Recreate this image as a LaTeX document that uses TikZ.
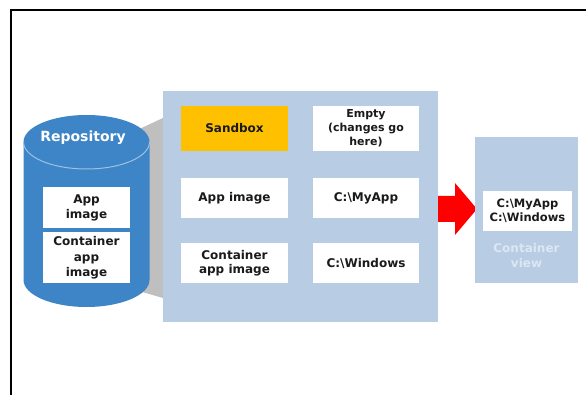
\documentclass[tikz,border=0pt]{standalone}
\usepackage{fontspec}
\setmainfont{DejaVu Sans}
\usetikzlibrary{positioning}
\definecolor{cylblue}{HTML}{3D85C6}
\definecolor{cyledge}{HTML}{9CC2E5}
\definecolor{panel}{HTML}{B8CCE4}
\definecolor{sandorange}{HTML}{FFC000}
\definecolor{linkgray}{HTML}{BFBFBF}
\definecolor{ink}{HTML}{1A1A1A}
\definecolor{pale}{HTML}{DDE7F3}
\tikzset{
  whitebox/.style={fill=white, inner sep=0pt, align=center, text=ink,
    font=\bfseries\fontsize{12}{14.5}\selectfont},
  panelbox/.style={fill=panel, inner sep=0pt},
}
\begin{document}
\begin{tikzpicture}[x=1pt,y=-1pt]
\useasboundingbox (0,0) rectangle (586,395);
% frame
\draw[line width=2.5pt, black] (11,395) -- (11,10) -- (586,10);
% gray link
\fill[linkgray] (135,131) -- (163,118) -- (163,298) -- (135,290) -- cycle;
% cylinder
\fill[cylblue] (23.5,142) -- (23.5,280)
  arc[start angle=180, end angle=0, x radius=63, y radius=27]
  -- (149.5,142)
  arc[start angle=0, end angle=-180, x radius=63, y radius=27] -- cycle;
\draw[cyledge, line width=1pt] (149.5,142)
  arc[start angle=0, end angle=180, x radius=63, y radius=27];
\node[text=white, font=\bfseries\fontsize{14}{16}\selectfont] (repo) at (83,138) {Repository};
\node[whitebox, minimum width=87pt, minimum height=41pt] (rapp) at (86.5,208) {App\\image};
\node[whitebox, minimum width=87pt, minimum height=51pt, font=\bfseries\fontsize{12}{15.5}\selectfont] (rcont) at (86.5,258) {Container\\app\\image};
% main panel
\node[panelbox, minimum width=275pt, minimum height=231pt] (main) at (300.5,206.5) {};
\node[whitebox, fill=sandorange, minimum width=107pt, minimum height=45pt] (sandbox) at (234.5,128.5) {Sandbox};
\node[whitebox, minimum width=106pt, minimum height=45pt, font=\bfseries\fontsize{11}{14}\selectfont] (empty) at (366,128.5) {Empty\\(changes go\\here)};
\node[whitebox, minimum width=107pt, minimum height=40pt] (appimg) at (234.5,198) {App image};
\node[whitebox, minimum width=106pt, minimum height=40pt] (myapp) at (366,198) {C:\textbackslash MyApp};
\node[whitebox, minimum width=107pt, minimum height=40pt] (contimg) at (234.5,263) {Container\\app image};
\node[whitebox, minimum width=106pt, minimum height=40pt] (windows) at (366,263) {C:\textbackslash Windows};
% arrow
\fill[red] (main.east |- 0,196) -- (455,196) -- (455,183) -- (477,209) -- (455,235) -- (455,222) -- (main.east |- 0,222) -- cycle;
% container view
\node[panelbox, minimum width=103pt, minimum height=146pt] (cview) at (526.5,210) {};
\node[whitebox, minimum width=89pt, minimum height=40pt, font=\bfseries\fontsize{11.5}{13.5}\selectfont] (cpaths) at (527.5,211) {C:\textbackslash MyApp\\C:\textbackslash Windows};
\node[text=pale, align=center, font=\bfseries\fontsize{12}{15}\selectfont] (clabel) at (526.5,256) {Container\\view};
\end{tikzpicture}
\end{document}
